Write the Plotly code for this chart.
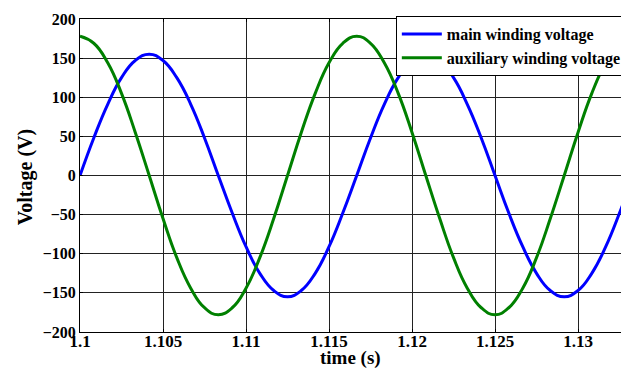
import plotly.graph_objects as go

# Time samples (s) and voltages
time_s = [1.1, 1.10083, 1.10167, 1.1025, 1.10333, 1.10417, 1.105, 1.10583, 1.10667, 1.1075,
          1.10833, 1.10917, 1.11, 1.11083, 1.11167, 1.1125, 1.11333, 1.11417, 1.115, 1.11583,
          1.11667, 1.1175, 1.11833, 1.11917, 1.12, 1.12083, 1.12167, 1.1225, 1.12333, 1.12417,
          1.125, 1.12583, 1.12667, 1.1275, 1.12833, 1.12917, 1.13, 1.13083, 1.13167, 1.1325,
          1.13333]
main_v = [0, 48, 91, 125, 147, 155, 147, 125, 91, 48,
          0, -48, -91, -125, -147, -155, -147, -125, -91, -48,
          0, 48, 91, 125, 147, 155, 147, 125, 91, 48,
          0, -48, -91, -125, -147, -155, -147, -125, -91, -48,
          0]
aux_v = [178, 169, 144, 105, 55, 0, -55, -105, -144, -169,
         -178, -169, -144, -105, -55, 0, 55, 105, 144, 169,
         178, 169, 144, 105, 55, 0, -55, -105, -144, -169,
         -178, -169, -144, -105, -55, 0, 55, 105, 144, 169,
         178]

x_ticks = [1.1, 1.105, 1.11, 1.115, 1.12, 1.125, 1.13]
x_tick_text = ["1.1", "1.105", "1.11", "1.115", "1.12", "1.125", "1.13"]
y_ticks = [-200, -150, -100, -50, 0, 50, 100, 150, 200]

FONT = "Liberation Serif"

fig = go.Figure()
fig.add_trace(go.Scatter(x=time_s, y=main_v, mode="lines", name="main winding voltage",
                         line=dict(color="#0000FF", width=3, shape="spline", smoothing=1.3)))
fig.add_trace(go.Scatter(x=time_s, y=aux_v, mode="lines", name="auxiliary winding voltage",
                         line=dict(color="#008000", width=3, shape="spline", smoothing=1.3)))

axis_common = dict(showline=True, linecolor="black", linewidth=1, mirror="ticks",
                   ticks="inside", ticklen=3, tickcolor="black", automargin=False,
                   showgrid=True, gridcolor="#222222", gridwidth=1, zeroline=False)

fig.update_layout(
    width=621, height=360,
    margin=dict(l=72, r=2, t=11, b=36),
    paper_bgcolor="white", plot_bgcolor="white",
    font=dict(family=FONT, color="black"),
    xaxis=dict(range=[1.1, 1.13283], tickvals=x_ticks, ticktext=x_tick_text,
               tickfont=dict(family=FONT, size=17, color="black", weight="bold"),
               ticklabelstandoff=-6,
               **axis_common),
    yaxis=dict(range=[-200, 200], tickvals=y_ticks,
               tickfont=dict(family=FONT, size=16, color="black", weight="bold"),
               **axis_common),
    legend=dict(x=0.5795, y=1.0096, xanchor="left", yanchor="top",
                bgcolor="white", bordercolor="black", borderwidth=1,
                font=dict(family=FONT, size=16, color="black", weight="bold"),
                itemwidth=40, tracegroupgap=0),
    showlegend=True,
    annotations=[
        dict(text="<b>time (s)</b>", xref="paper", yref="paper", x=0.497, y=-0.083,
             xanchor="center", yanchor="middle", showarrow=False,
             font=dict(family=FONT, size=19, color="black")),
        dict(text="<b>Voltage (V)</b>", xref="paper", yref="paper", x=-0.1005, y=0.495,
             xanchor="center", yanchor="middle", showarrow=False, textangle=-90,
             font=dict(family=FONT, size=20, color="black")),
    ],
)

fig.write_html("out.html")
